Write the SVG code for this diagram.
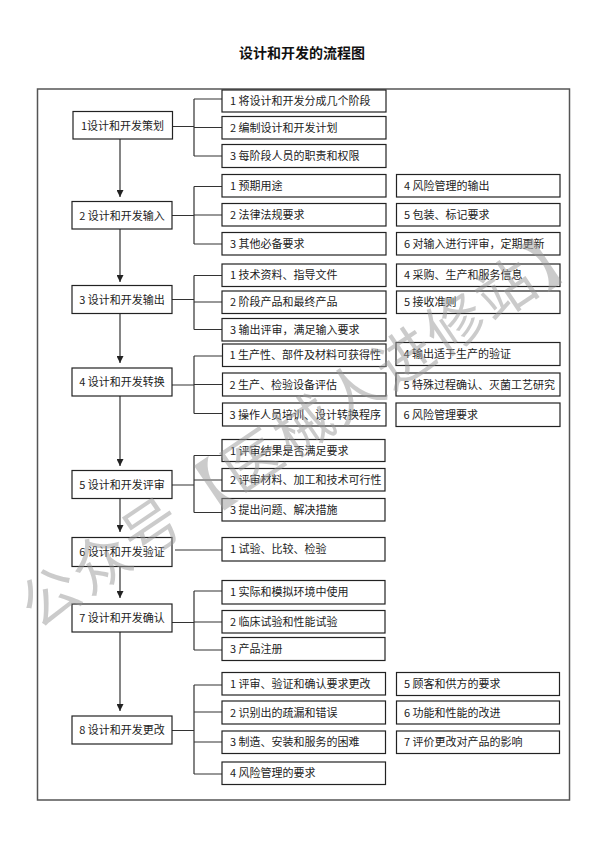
<svg xmlns="http://www.w3.org/2000/svg" width="606" height="857" viewBox="0 0 606 857">
<style>
  .bx{fill:#fff;stroke:#222;stroke-width:1.2}
  .t{font-family:"Noto Sans CJK SC","Liberation Sans",sans-serif;font-size:11px;fill:#222}
  .st{text-anchor:middle}
  .ln{fill:none;stroke:#333;stroke-width:1.2}
  .ttl{font-family:"Noto Sans CJK SC","Liberation Sans",sans-serif;font-size:14px;font-weight:bold;fill:#111;text-anchor:middle}
  .wm{font-family:"Noto Sans CJK SC","Liberation Sans",sans-serif;font-size:58px;letter-spacing:3px;fill:#999;opacity:0.5;text-anchor:middle;dominant-baseline:central}
</style>
<defs>
  <marker id="ah" markerWidth="7" markerHeight="7" refX="7" refY="3.5" orient="auto" markerUnits="userSpaceOnUse">
    <path d="M0,0 L7,3.5 L0,7 z" fill="#222"/>
  </marker>
</defs>
<rect width="606" height="857" fill="#fff"/>
<text class="ttl" x="302" y="58">设计和开发的流程图</text>
<rect x="37.5" y="89" width="532" height="711" fill="none" stroke="#555" stroke-width="1.5"/>

<g id="connectors">
  <line class="ln" x1="120" y1="139" x2="120" y2="197" marker-end="url(#ah)"/>
  <line class="ln" x1="120" y1="229" x2="120" y2="282" marker-end="url(#ah)"/>
  <line class="ln" x1="120" y1="313.5" x2="120" y2="363" marker-end="url(#ah)"/>
  <line class="ln" x1="120" y1="396" x2="120" y2="466" marker-end="url(#ah)"/>
  <line class="ln" x1="120" y1="498.5" x2="120" y2="532" marker-end="url(#ah)"/>
  <line class="ln" x1="120" y1="566.5" x2="120" y2="598" marker-end="url(#ah)"/>
  <line class="ln" x1="120" y1="632" x2="120" y2="711" marker-end="url(#ah)"/>
  <path class="ln" d="M172,126.5 H194 M194,99 V156 M194,99 H222 M194,127.5 H222 M194,156 H222"/>
  <path class="ln" d="M172,215.5 H194 M194,186.5 V244 M194,186.5 H222 M194,215 H222 M194,244 H222"/>
  <path class="ln" d="M172,299.5 H194 M194,275.5 V329.5 M194,275.5 H222 M194,302 H222 M194,329.5 H222"/>
  <path class="ln" d="M172,385 H194 M194,356 V413.5 M194,356 H222 M194,384.5 H222 M194,413.5 H222"/>
  <path class="ln" d="M172,485 H194 M194,455.5 V512.5 M194,455.5 H222 M194,480 H222 M194,512.5 H222"/>
  <path class="ln" d="M175,550 H222"/>
  <path class="ln" d="M172,622.5 H194 M194,591 V650 M194,591 H222 M194,622 H222 M194,650 H222"/>
  <path class="ln" d="M172,730.5 H194 M194,685 V774 M194,685 H222 M194,712 H222 M194,742 H222 M194,774 H222"/>
</g>

<g id="stage1"><rect class="bx" x="73" y="111.5" width="99.5" height="27.5"/><text class="t st" x="122.5" y="129.5">1设计和开发策划</text></g>
<g id="stage2"><rect class="bx" x="72" y="201.5" width="100" height="27.5"/><text class="t st" x="122" y="219.5">2 设计和开发输入</text></g>
<g id="stage3"><rect class="bx" x="72" y="285.5" width="100" height="28"/><text class="t st" x="122" y="303.5">3 设计和开发输出</text></g>
<g id="stage4"><rect class="bx" x="72" y="368" width="100" height="28"/><text class="t st" x="122" y="386">4 设计和开发转换</text></g>
<g id="stage5"><rect class="bx" x="72" y="470.5" width="100" height="28"/><text class="t st" x="122" y="488.5">5 设计和开发评审</text></g>
<g id="stage6"><rect class="bx" x="72" y="537.5" width="100" height="29"/><text class="t st" x="122" y="556">6 设计和开发验证</text></g>
<g id="stage7"><rect class="bx" x="72" y="604" width="100" height="28"/><text class="t st" x="122" y="622">7 设计和开发确认</text></g>
<g id="stage8"><rect class="bx" x="72" y="716" width="100" height="28"/><text class="t st" x="122" y="734">8 设计和开发更改</text></g>

<g id="s1-items">
  <rect class="bx" x="222" y="90" width="164" height="22"/><text class="t" x="230" y="105">1 将设计和开发分成几个阶段</text>
  <rect class="bx" x="222" y="116.5" width="164" height="22.5"/><text class="t" x="230" y="131.5">2 编制设计和开发计划</text>
  <rect class="bx" x="222" y="144.5" width="164" height="23"/><text class="t" x="230" y="160">3 每阶段人员的职责和权限</text>
</g>
<g id="s2-items">
  <rect class="bx" x="222" y="174.5" width="164" height="22.5"/><text class="t" x="230" y="189.5">1 预期用途</text>
  <rect class="bx" x="222" y="203.5" width="164" height="22.5"/><text class="t" x="230" y="218.5">2 法律法规要求</text>
  <rect class="bx" x="222" y="232.5" width="164" height="22.5"/><text class="t" x="230" y="247.5">3 其他必备要求</text>
  <rect class="bx" x="396.5" y="174.5" width="163.5" height="22.5"/><text class="t" x="404" y="189.5">4 风险管理的输出</text>
  <rect class="bx" x="396.5" y="203.5" width="163.5" height="22.5"/><text class="t" x="404" y="218.5">5 包装、标记要求</text>
  <rect class="bx" x="396.5" y="232.5" width="163.5" height="22.5"/><text class="t" x="404" y="247.5">6 对输入进行评审，定期更新</text>
</g>
<g id="s3-items">
  <rect class="bx" x="222" y="264" width="164" height="22.5"/><text class="t" x="230" y="279">1 技术资料、指导文件</text>
  <rect class="bx" x="222" y="291" width="164" height="22.5"/><text class="t" x="230" y="306">2 阶段产品和最终产品</text>
  <rect class="bx" x="222" y="318.5" width="164" height="22.5"/><text class="t" x="230" y="333.5">3 输出评审，满足输入要求</text>
  <rect class="bx" x="396.5" y="264" width="163.5" height="22.5"/><text class="t" x="404" y="279">4 采购、生产和服务信息</text>
  <rect class="bx" x="396.5" y="291" width="163.5" height="22.5"/><text class="t" x="404" y="306">5 接收准则</text>
</g>
<g id="s4-items">
  <rect class="bx" x="222.5" y="344" width="163.5" height="22.5"/><text class="t" x="229.5" y="359">1 生产性、部件及材料可获得性</text>
  <rect class="bx" x="222.5" y="373" width="163.5" height="23"/><text class="t" x="229.5" y="388.5">2 生产、检验设备评估</text>
  <rect class="bx" x="222.5" y="403" width="163.5" height="23"/><text class="t" x="229.5" y="418.5">3 操作人员培训、设计转换程序</text>
  <rect class="bx" x="396" y="342.5" width="164" height="23"/><text class="t" x="403.5" y="358">4 输出适于生产的验证</text>
  <rect class="bx" x="396" y="373" width="164" height="23"/><text class="t" x="403.5" y="388.5">5 特殊过程确认、灭菌工艺研究</text>
  <rect class="bx" x="396" y="403" width="164" height="23.5"/><text class="t" x="403.5" y="418.5">6 风险管理要求</text>
</g>
<g id="s5-items">
  <rect class="bx" x="222" y="439.5" width="163" height="22"/><text class="t" x="230" y="454.5">1 评审结果是否满足要求</text>
  <rect class="bx" x="222" y="468.5" width="163" height="22.5"/><text class="t" x="230" y="483.5">2 评审材料、加工和技术可行性</text>
  <rect class="bx" x="222" y="498.5" width="163" height="22.5"/><text class="t" x="230" y="513.5">3 提出问题、解决措施</text>
</g>
<g id="s6-items">
  <rect class="bx" x="222" y="537.5" width="163" height="23.5"/><text class="t" x="230" y="553">1 试验、比较、检验</text>
</g>
<g id="s7-items">
  <rect class="bx" x="222" y="580.5" width="163" height="23.5"/><text class="t" x="230" y="596">1 实际和模拟环境中使用</text>
  <rect class="bx" x="222" y="610.5" width="163" height="22.5"/><text class="t" x="230" y="625.5">2 临床试验和性能试验</text>
  <rect class="bx" x="222" y="637.5" width="163" height="23"/><text class="t" x="230" y="653">3 产品注册</text>
</g>
<g id="s8-items">
  <rect class="bx" x="222" y="672.5" width="163.5" height="22.5"/><text class="t" x="230" y="687.5">1 评审、验证和确认要求更改</text>
  <rect class="bx" x="222" y="701" width="163.5" height="23"/><text class="t" x="230" y="716.5">2 识别出的疏漏和错误</text>
  <rect class="bx" x="222" y="731" width="163.5" height="22.5"/><text class="t" x="230" y="746">3 制造、安装和服务的困难</text>
  <rect class="bx" x="222" y="762" width="163.5" height="22.5"/><text class="t" x="230" y="777">4 风险管理的要求</text>
  <rect class="bx" x="396.5" y="672.5" width="163" height="23"/><text class="t" x="404" y="688">5 顾客和供方的要求</text>
  <rect class="bx" x="396.5" y="701" width="163" height="23"/><text class="t" x="404" y="716.5">6 功能和性能的改进</text>
  <rect class="bx" x="396.5" y="731" width="163" height="22.5"/><text class="t" x="404" y="746">7 评价更改对产品的影响</text>
</g>

<text class="wm" x="302" y="422" transform="rotate(-34 302 422)">公众号【医械人进修站】</text>
</svg>
